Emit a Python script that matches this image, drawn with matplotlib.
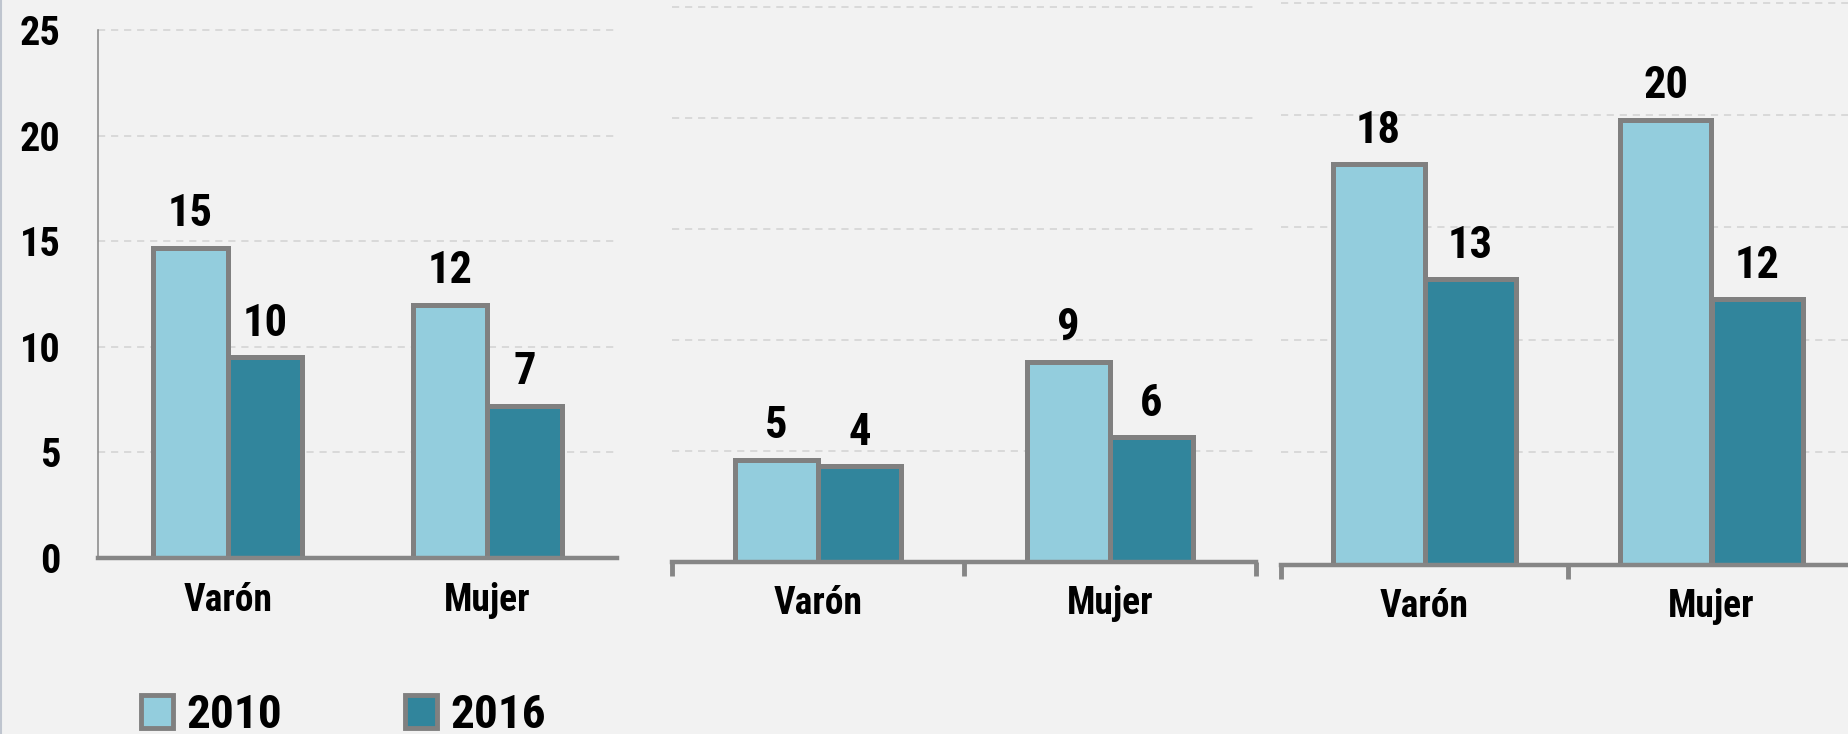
"""
Comparativo 2010 / 2016 por sexo, tres paneles de barras agrupadas
"""
import matplotlib.pyplot as plt
from matplotlib.patches import Patch
from matplotlib.lines import Line2D

CATEGORIES = ['Varón', 'Mujer']
YEARS = ['2010', '2016']

# values (labels shown rounded)
panel1_2010 = [14.7, 12.0]
panel1_2016 = [9.5, 7.2]
panel2_2010 = [4.6, 9.0]
panel2_2016 = [4.3, 5.6]
panel3_2010 = [17.8, 19.8]
panel3_2016 = [12.7, 11.8]

Y_TICKS = [0, 5, 10, 15, 20, 25]

COLOR_2010 = '#93CDDD'
COLOR_2016 = '#31859C'
EDGE = '#808080'
BG = '#F2F2F2'
FONT = ['Liberation Sans Narrow', 'Roboto Condensed', 'DejaVu Sans']

plt.rcParams['font.family'] = FONT
plt.rcParams['font.weight'] = 'bold'
plt.rcParams['font.stretch'] = 'condensed'

W, H = 1849, 734
fig = plt.figure(figsize=(W / 100, H / 100), dpi=100, facecolor=BG)


def px_axes(left, right, y0, y25):
    # axes rect from pixel coords: x range and y pixel of value 0 / 25
    return fig.add_axes([left / W, (H - y0) / H, (right - left) / W, (y0 - y25) / H])


panels = [
    (px_axes(98, 617, 558, 30), panel1_2010, panel1_2016, 0.287, True),
    (px_axes(672, 1256, 561.5, 7.3), panel2_2010, panel2_2016, 0.283, False),
    (px_axes(1281, 1855, 564.5, 2.7), panel3_2010, panel3_2016, 0.32, False),
]

for ax, v2010, v2016, w, first in panels:
    ax.set_facecolor(BG)
    ax.set_xlim(-0.5, 1.5)
    ax.set_ylim(0, 25)
    ax.set_axisbelow(True)

    x = list(range(len(CATEGORIES)))
    ax.bar([i - w / 2 for i in x], v2010, width=w, color=COLOR_2010,
           edgecolor=EDGE, linewidth=3.6, zorder=3)
    ax.bar([i + w / 2 for i in x], v2016, width=w, color=COLOR_2016,
           edgecolor=EDGE, linewidth=3.6, zorder=3)

    # value labels
    for i in x:
        for xx, v in [(i - w / 2, v2010[i]), (i + w / 2, v2016[i])]:
            ax.annotate(f"{v:.0f}", (xx, v), xytext=(0, 15.5), textcoords='offset points',
                        ha='center', va='baseline', fontsize=32,
                        color='black', zorder=4)

    # dashed grid (no line at 0)
    for t in Y_TICKS[1:]:
        ax.axhline(t, color='#D9D9D9', linewidth=1.4, linestyle=(0, (3.7, 3.0)),
                   zorder=1, clip_on=False)

    for s in ['top', 'right']:
        ax.spines[s].set_visible(False)
    ax.spines['bottom'].set_color('#868686')
    ax.spines['bottom'].set_linewidth(3.2)
    ax.spines['bottom'].set_zorder(5)

    if first:
        ax.spines['left'].set_color('#868686')
        ax.spines['left'].set_linewidth(1.1)
        ax.set_yticks(Y_TICKS)
        ax.set_yticklabels([str(t) for t in Y_TICKS])
        ax.tick_params(axis='y', length=0, pad=27, labelsize=29)
        ax.set_xticks([])
    else:
        ax.spines['left'].set_visible(False)
        ax.set_yticks([])
        ax.set_xticks([-0.5, 0.5, 1.5])
        ax.set_xticklabels(['', '', ''])
        ax.tick_params(axis='x', which='major', length=10, width=3.5, color='#868686')

    # category names on minor ticks at the bar groups
    ax.set_xticks(x, minor=True)
    ax.set_xticklabels(CATEGORIES, minor=True)
    ax.tick_params(axis='x', which='minor', length=0, pad=17, labelsize=27)

# thin border line on the left edge
fig.add_artist(Line2D([0.0006, 0.0006], [0, 1], transform=fig.transFigure,
                      color='#BFC5CF', linewidth=1.5))

handles = [Patch(facecolor=COLOR_2010, edgecolor=EDGE, linewidth=3.5),
           Patch(facecolor=COLOR_2016, edgecolor=EDGE, linewidth=3.5)]
fig.legend(handles, YEARS, loc='lower left', bbox_to_anchor=(141 / W, -0.004),
           ncol=2, frameon=False, prop={'family': FONT, 'weight': 'bold', 'size': 34,
                                        'stretch': 'condensed'},
           handlelength=0.68, handleheight=0.68, handletextpad=0.28,
           columnspacing=2.6, borderpad=0, borderaxespad=0)

fig.savefig('out.png', dpi=100, facecolor=BG)
